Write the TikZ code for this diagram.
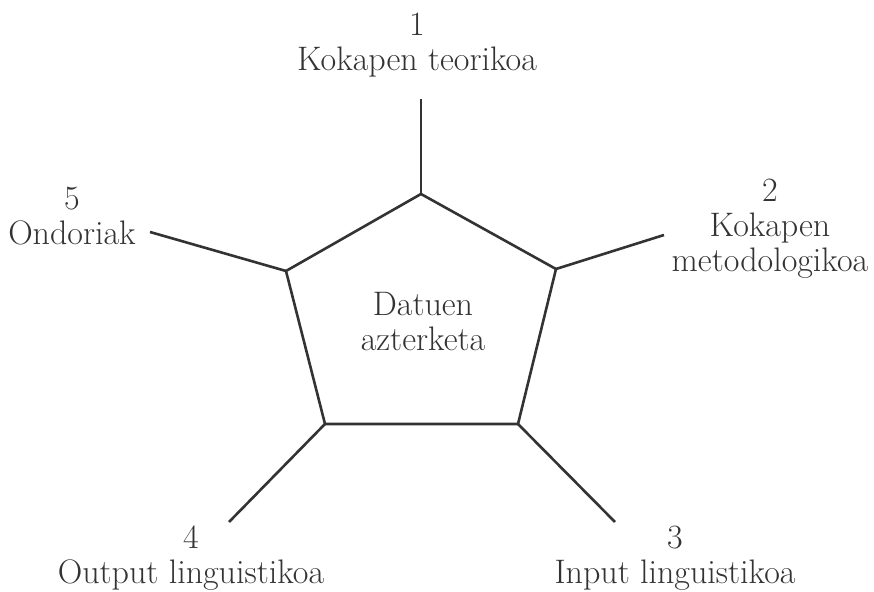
\documentclass[tikz,border=0pt]{standalone}
\usepackage{tikz}
\definecolor{inkgray}{RGB}{51,51,51}

\begin{document}
\begin{tikzpicture}[x=0.5pt,y=-0.5pt,
  edge/.style={draw=inkgray, line width=1.3pt},
  lbl/.style={align=center, text=inkgray, font=\fontsize{17}{17.5}\selectfont, inner sep=0pt}]
\useasboundingbox (0,0) rectangle (874,592);

% corners of the pentagon
\coordinate (p1) at (421,194);
\coordinate (p2) at (556,269);
\coordinate (p3) at (518,424);
\coordinate (p4) at (325,424);
\coordinate (p5) at (286,271);

% free ends of the spokes
\coordinate (e1) at (421,99);
\coordinate (e2) at (664,235);
\coordinate (e3) at (615,522);
\coordinate (e4) at (229,522);
\coordinate (e5) at (150,232);

\draw [edge, line join=miter] (p1) -- (p2) -- (p3) -- (p4) -- (p5) -- cycle;

\foreach \i in {1,...,5}
  \draw [edge] (p\i) -- (e\i);

\node [lbl] (datuak) at (423,322) {Datuen\\azterketa};

\node [lbl] (kok1) at (417,45) {1\\Kokapen teorikoa};
\node [lbl] (kok2) at (770,229) {2\\Kokapen\\metodologikoa};
\node [lbl] (input) at (675,558) {3\\Input linguistikoa};
\node [lbl] (output) at (191,558) {4\\Output linguistikoa};
\node [lbl] (ondo) at (72,216) {5\\Ondoriak};
\end{tikzpicture}
\end{document}
